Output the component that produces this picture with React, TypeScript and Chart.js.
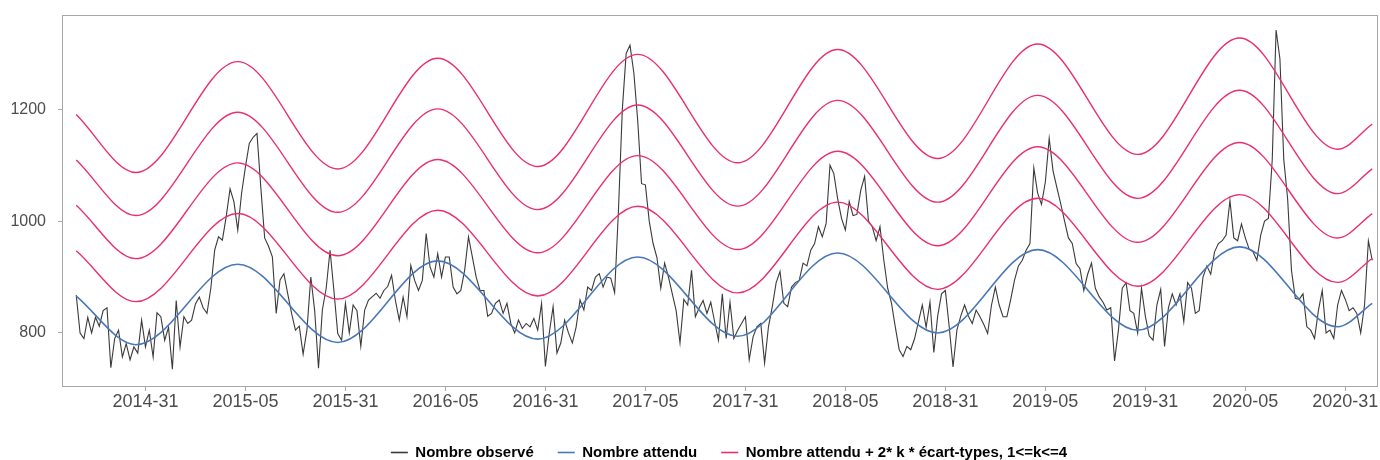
import React, { useEffect, useRef } from "react";
import { Chart, registerables } from "chart.js";

Chart.register(...registerables);

// X axis: week index from the first observation; ticks every 26 weeks
const tickLabels = [
  "2014-31", "2015-05", "2015-31", "2016-05", "2016-31", "2017-05", "2017-31",
  "2018-05", "2018-31", "2019-05", "2019-31", "2020-05", "2020-31",
];
const firstTickWeek = 18;
const weeksPerTick = 26;
const yTicks = [800, 1000, 1200];

const observed = [
  868, 800, 790, 828, 800, 828, 812, 840, 845, 738,
  790, 805, 757, 781, 752, 775, 764, 823, 775, 805,
  757, 836, 829, 787, 810, 735, 858, 775, 829, 817,
  823, 852, 864, 845, 835, 880, 948, 972, 966, 1008,
  1058, 1035, 984, 1050, 1097, 1139, 1150, 1157, 1060, 970,
  955, 936, 835, 895, 906, 870, 835, 805, 812, 762,
  806, 900, 840, 737, 841, 880, 948, 876, 799, 787,
  853, 800, 850, 840, 776, 841, 859, 865, 871, 862,
  876, 883, 903, 858, 823, 864, 829, 921, 894, 876,
  894, 978, 918, 900, 942, 900, 936, 936, 882, 870,
  876, 912, 972, 936, 900, 876, 876, 830, 835, 853,
  859, 835, 853, 817, 800, 823, 808, 817, 811, 826,
  805, 853, 740, 800, 847, 764, 782, 823, 800, 782,
  811, 859, 841, 882, 876, 900, 906, 882, 900, 898,
  872, 1020, 1200, 1300, 1315, 1265, 1180, 1067, 1065, 1000,
  960, 935, 880, 925, 900, 870, 840, 782, 860, 850,
  912, 829, 845, 858, 835, 855, 820, 787, 870, 790,
  855, 790, 805, 817, 829, 752, 793, 811, 817, 746,
  811, 847, 890, 910, 853, 847, 882, 890, 894, 925,
  920, 948, 960, 990, 972, 996, 1100, 1085, 1040, 1005,
  984, 1035, 1010, 1012, 1055, 1080, 1000, 990, 965, 990,
  930, 880, 853, 810, 770, 758, 776, 770, 790, 820,
  850, 810, 855, 765, 830, 870, 876, 811, 739, 805,
  830, 850, 830, 817, 841, 829, 815, 799, 850, 882,
  850, 829, 829, 860, 895, 920, 930, 948, 960, 1095,
  1050, 1030, 1070, 1148, 1090, 1060, 1031, 1000, 970, 960,
  924, 915, 876, 905, 925, 880, 865, 855, 841, 845,
  750, 805, 880, 890, 840, 835, 800, 880, 830, 795,
  787, 850, 878, 776, 845, 870, 850, 870, 820, 890,
  880, 835, 840, 900, 920, 905, 945, 960, 965, 975,
  1037, 970, 965, 995, 970, 950, 945, 930, 975, 1000,
  1005, 1110, 1342, 1290, 1110, 1040, 912, 862, 860, 870,
  811, 805, 790, 840, 876, 800, 805, 790, 850, 876,
  860, 840, 845, 835, 800, 850, 965, 930,
];

// Expected curve read at its turning points (and both ends)
const curveWeeks = [0, 15.5, 42, 68, 94, 120, 146, 172, 198, 224, 250, 276, 302.5, 328, 337];
const expected = [866, 779, 923, 783, 929, 789, 936, 794, 943, 800, 949, 805, 954, 811, 853];
const stdDev = [40.6, 38.5, 45.3, 38.8, 45.3, 38.6, 45.3, 38.8, 45.5, 39, 46, 39.3, 46.7, 39.7, 40.1];
const bandKs = [1, 2, 3, 4];

const legendTexts = [
  "Nombre observé",
  "Nombre attendu",
  "Nombre attendu + 2* k * écart-types, 1<=k<=4",
];

const OBS_COLOR = "#3a3a3a";
const EXP_COLOR = "#4a78b6";
const BAND_COLOR = "#ea2f6c";
const AXIS_GREY = "#a8a8a8";
const TEXT_GREY = "#4d4d4d";
const FONT = "'Liberation Sans', Arial, Helvetica, sans-serif";

const panelBorder = {
  id: "panelBorder",
  afterLayout(chart: any) {
    // the legend sits slightly right of the panel centre
    if (chart.legend) {
      chart.legend.left += 9;
      chart.legend.right += 9;
    }
  },
  afterDatasetsDraw(chart: any) {
    const { ctx, chartArea: a } = chart;
    ctx.save();
    ctx.strokeStyle = AXIS_GREY;
    ctx.lineWidth = 1;
    ctx.strokeRect(Math.round(a.left) + 0.5, Math.round(a.top) + 0.5,
      Math.round(a.right - a.left) - 1, Math.round(a.bottom - a.top) - 1);
    ctx.restore();
  },
};

export default function App() {
  const canvasRef = useRef<HTMLCanvasElement | null>(null);

  useEffect(() => {
    document.body.style.margin = "0";
    const canvas = canvasRef.current;
    if (!canvas) return;

    const obsData = observed.map((v, i) => ({ x: i, y: v }));
    const expData = curveWeeks.map((w, i) => ({ x: w, y: expected[i] }));
    const bandSets = bandKs.map((k) => ({
      label: "band" + k,
      data: curveWeeks.map((w, i) => ({ x: w, y: expected[i] + 2 * k * stdDev[i] })),
      borderColor: BAND_COLOR,
      borderWidth: 1.4,
      pointRadius: 0,
      cubicInterpolationMode: "monotone" as const,
      order: 1,
    }));

    const chart = new Chart(canvas, {
      type: "line",
      data: {
        datasets: [
          {
            label: legendTexts[0],
            data: obsData,
            borderColor: OBS_COLOR,
            borderWidth: 1.1,
            pointRadius: 0,
            tension: 0,
            order: 3,
          },
          {
            label: legendTexts[1],
            data: expData,
            borderColor: EXP_COLOR,
            borderWidth: 1.6,
            pointRadius: 0,
            cubicInterpolationMode: "monotone",
            order: 2,
          },
          ...bandSets,
        ],
      },
      plugins: [panelBorder],
      options: {
        responsive: false,
        animation: false,
        events: [],
        layout: { padding: { top: 15, right: 2, left: 0, bottom: 0 } },
        scales: {
          x: {
            type: "linear",
            min: -3.7,
            max: 338.5,
            afterBuildTicks: (scale: any) => {
              scale.ticks = tickLabels.map((_, k) => ({ value: firstTickWeek + k * weeksPerTick }));
            },
            afterFit: (scale: any) => {
              scale.height = 34;
              scale.paddingLeft = 0;
              scale.paddingRight = 0;
            },
            ticks: {
              autoSkip: false,
              maxRotation: 0,
              padding: 0,
              color: TEXT_GREY,
              font: { family: FONT, size: 18 },
              callback: (v: any) => tickLabels[Math.round((Number(v) - firstTickWeek) / weeksPerTick)] ?? "",
            },
            grid: { display: true, drawOnChartArea: false, drawTicks: true, tickLength: 4, color: AXIS_GREY },
            border: { display: false },
          },
          y: {
            type: "linear",
            min: 703.3,
            max: 1368.8,
            afterBuildTicks: (scale: any) => {
              scale.ticks = yTicks.map((v) => ({ value: v }));
            },
            afterFit: (scale: any) => {
              scale.width = 62;
              scale.paddingTop = 0;
              scale.paddingBottom = 0;
            },
            ticks: {
              padding: 12,
              color: TEXT_GREY,
              font: { family: FONT, size: 16 },
              callback: (v: any) => String(v),
            },
            grid: { display: true, drawOnChartArea: false, drawTicks: true, tickLength: 4, color: AXIS_GREY },
            border: { display: false },
          },
        },
        plugins: {
          tooltip: { enabled: false },
          legend: {
            position: "bottom",
            fullSize: false,
            labels: {
              usePointStyle: true,
              pointStyleWidth: 17,
              padding: 24,
              color: "#000000",
              font: { family: FONT, size: 15, weight: "bold" },
              generateLabels: () =>
                [OBS_COLOR, EXP_COLOR, BAND_COLOR].map((c, i) => ({
                  text: legendTexts[i],
                  fillStyle: c,
                  strokeStyle: c,
                  lineWidth: 1.6,
                  pointStyle: "line",
                  hidden: false,
                  datasetIndex: i,
                })),
            },
          },
        },
      },
    } as any);

    return () => chart.destroy();
  }, []);

  return (
    <div style={{ width: 1380, height: 460, overflow: "hidden" }}>
      <canvas ref={canvasRef} width={1380} height={470} style={{ display: "block" }} />
    </div>
  );
}
